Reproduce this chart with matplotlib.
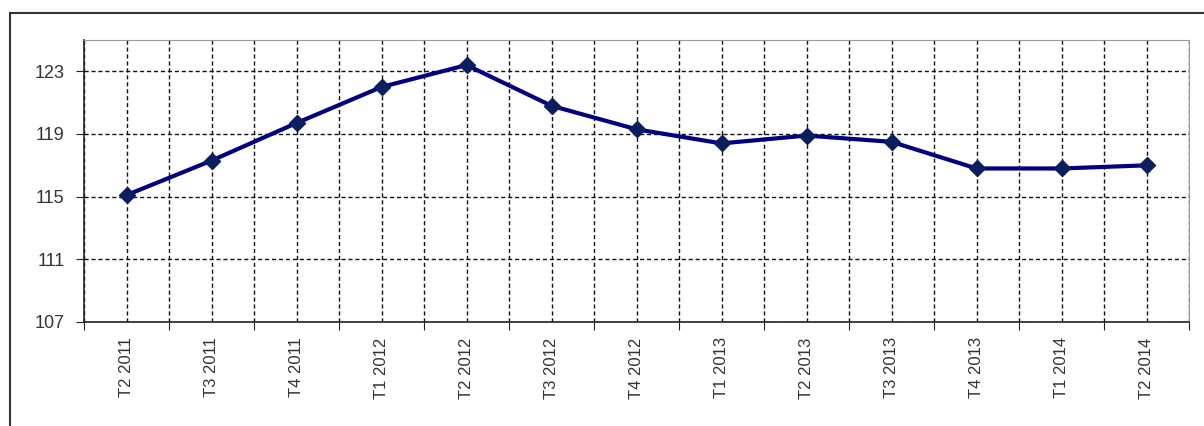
import matplotlib.pyplot as plt
import numpy as np
from matplotlib.patches import Rectangle

quarters = ['T2 2011', 'T3 2011', 'T4 2011', 'T1 2012', 'T2 2012', 'T3 2012', 'T4 2012',
            'T1 2013', 'T2 2013', 'T3 2013', 'T4 2013', 'T1 2014', 'T2 2014']
values = [115.1, 117.3, 119.7, 122.0, 123.4, 120.8, 119.3,
          118.4, 118.9, 118.5, 116.8, 116.8, 117.0]
y_ticks = [107, 111, 115, 119, 123]

plt.rcParams['font.family'] = ['Liberation Sans', 'DejaVu Sans']

fig = plt.figure(figsize=(12.04, 4.26), dpi=100)
fig.patches.append(Rectangle((10 / 1204, -0.01), 1.02, 1 - 13 / 426 + 0.01,
                             transform=fig.transFigure, fill=False,
                             edgecolor='#333333', linewidth=1.5))
ax = fig.add_axes([84 / 1204, 1 - 322 / 426, (1189 - 84) / 1204, (322 - 40) / 426])

x = np.arange(len(quarters))
ax.plot(x, values, color='#000080', linewidth=3, marker='D', markersize=8,
        markerfacecolor='#0b1f5e', markeredgecolor='#0b1f5e', zorder=3)

ax.set_xlim(-0.5, len(quarters) - 0.5)
ax.set_ylim(107, 125)
ax.set_yticks(y_ticks)
ax.set_xticks(np.arange(len(quarters) + 1) - 0.5)
ax.set_xticklabels([])
ax.set_xticks(x, minor=True)
ax.set_xticklabels(quarters, minor=True, rotation=90, fontsize=12, color='#333333')
ax.tick_params(axis='x', which='minor', length=0, pad=11)
ax.tick_params(axis='x', which='major', length=6, direction='out', color='#222222')
ax.tick_params(axis='y', length=6, direction='out', pad=8, labelsize=13,
               color='#222222', labelcolor='#333333')

ax.grid(True, which='both', axis='x', color='#111111', linestyle=(0, (3, 2)), linewidth=1)
ax.grid(True, which='major', axis='y', color='#111111', linestyle=(0, (3, 2)), linewidth=1)
ax.set_axisbelow(True)

for s in ['top', 'right']:
    ax.spines[s].set_color('#999999')
for s in ['left', 'bottom']:
    ax.spines[s].set_color('#222222')
    ax.spines[s].set_linewidth(1.2)

fig.savefig('out.png', dpi=100)
